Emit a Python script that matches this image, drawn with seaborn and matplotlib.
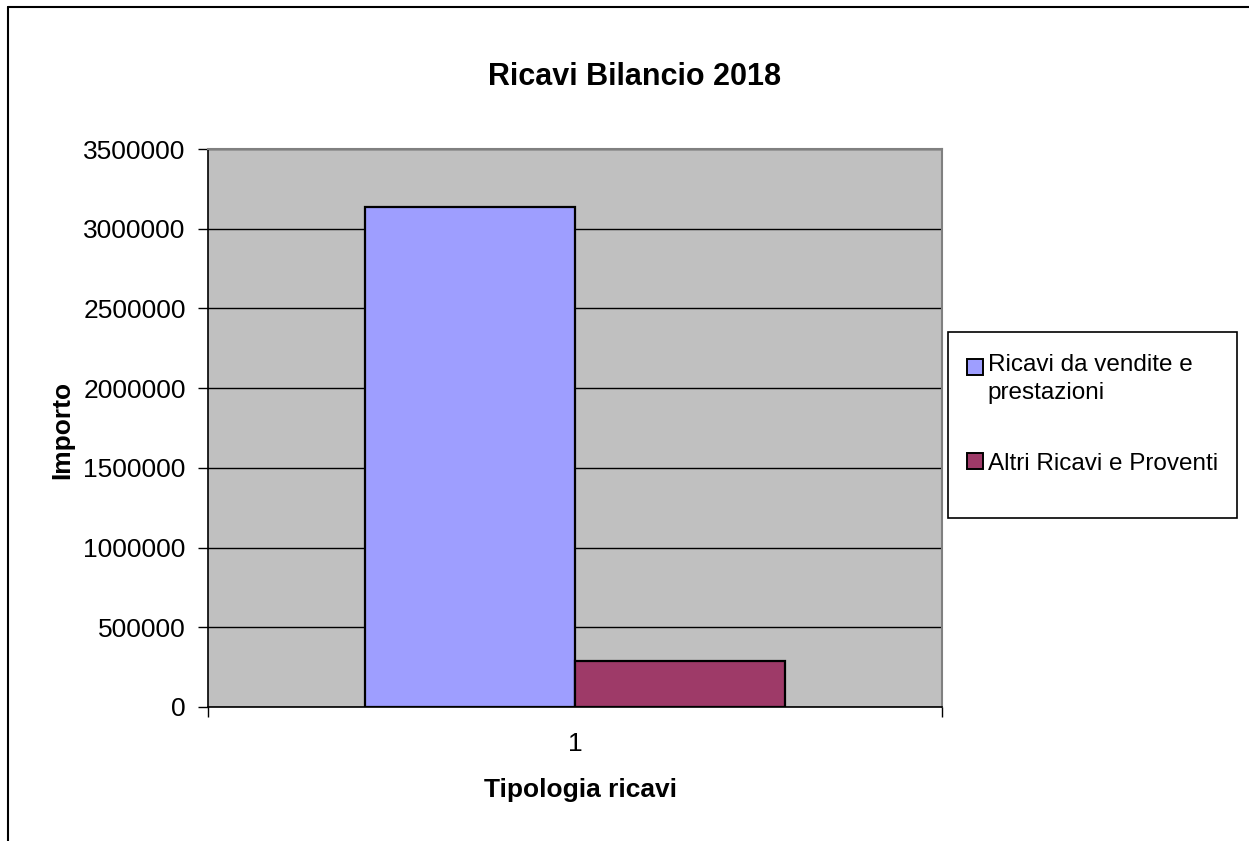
import numpy as np
import pandas as pd
import matplotlib
matplotlib.use("Agg")
import matplotlib.pyplot as plt
import seaborn as sns
from matplotlib.lines import Line2D
from matplotlib.patches import Rectangle
from matplotlib.legend_handler import HandlerPatch

categorie = ["1", "1"]
serie = ["Ricavi da vendite e\nprestazioni", "Altri Ricavi e Proventi"]
importi = [3136000, 288000]
colori = ["#9E9EFF", "#9E3A68"]

df = pd.DataFrame({"tipologia": categorie, "serie": serie, "importo": importi})

sns.set_style("white")
plt.rcParams['font.family'] = ['Liberation Sans', 'DejaVu Sans']
plt.rcParams['text.color'] = 'black'
plt.rcParams['xtick.color'] = 'black'
plt.rcParams['ytick.color'] = 'black'

W, H = 1249, 841
fig = plt.figure(figsize=(W / 100, H / 100), dpi=100)
ax = fig.add_axes([208 / W, 1 - 707 / H, 734 / W, 558 / H])
ax.set_facecolor("#C0C0C0")

sns.barplot(data=df, x="tipologia", y="importo", hue="serie", palette=colori,
            saturation=1, width=0.572, edgecolor="black", linewidth=1.6, ax=ax, legend=True)

ax.set_xlim(-0.5, 0.5)
ax.set_ylim(0, 3500000)
ax.set_yticks(np.arange(0, 3500001, 500000))
ax.set_yticklabels([str(v) for v in range(0, 3500001, 500000)], fontsize=19)
ax.yaxis.grid(True, color="black", linewidth=1)
ax.set_axisbelow(True)

ax.set_xticks([0])
ax.set_xticklabels(["1"], fontsize=19)
ax.set_xticks([-0.5, 0.5], minor=True)
ax.tick_params(axis="x", which="major", length=0, pad=18)
ax.tick_params(axis="x", which="minor", length=7, width=1, color="black", direction="out", bottom=True)
ax.tick_params(axis="y", length=7, width=1, color="black", direction="out", left=True, pad=9)

for s in ["left", "bottom"]:
    ax.spines[s].set_color("black")
    ax.spines[s].set_linewidth(1.2)
for s in ["top", "right"]:
    ax.spines[s].set_color("#808080")
    ax.spines[s].set_linewidth(1.5)

ax.set_xlabel("")
ax.set_ylabel("")
fig.text(635 / W, 1 - 77 / H, "Ricavi Bilancio 2018", ha="center", va="center",
         fontsize=22, fontweight="bold")
fig.text(580 / W, 1 - 790 / H, "Tipologia ricavi", ha="center", va="center",
         fontsize=19, fontweight="bold")
fig.text(62 / W, 1 - 430 / H, "Importo", ha="center", va="center", rotation=90,
         fontsize=19, fontweight="bold")


# quadratino allineato alla prima riga dell'etichetta
def quadrato_alto(legend, orig_handle, xdescent, ydescent, width, height, fontsize):
    return Rectangle((-xdescent, -ydescent + 8.5), width, height)


# riquadro legenda
ax.add_patch(Rectangle((948 / W, 1 - 518 / H), 289 / W, 186 / H, transform=fig.transFigure,
                       facecolor="white", edgecolor="black", linewidth=1.2,
                       clip_on=False, zorder=4))
handles, labels = ax.get_legend_handles_labels()
leg = ax.legend(handles, labels, loc="upper left", bbox_to_anchor=(967 / W, 1 - 354 / H),
                bbox_transform=fig.transFigure, fontsize=17.5, frameon=False,
                handlelength=0.65, handleheight=0.65, handletextpad=0.2,
                labelspacing=2.0, borderpad=0, borderaxespad=0,
                handler_map={handles[0]: HandlerPatch(patch_func=quadrato_alto)})
leg.set_zorder(6)
for t in leg.get_texts():
    t.set_linespacing(1.35)
for h in leg.legend_handles:
    h.set_linewidth(1.4)

# cornice esterna
fig.add_artist(Line2D([8 / W, 8 / W], [0, 1 - 7 / H], color="black", linewidth=1.5))
fig.add_artist(Line2D([8 / W, 1], [1 - 7 / H, 1 - 7 / H], color="black", linewidth=1.5))

fig.savefig("out.png", dpi=100)
